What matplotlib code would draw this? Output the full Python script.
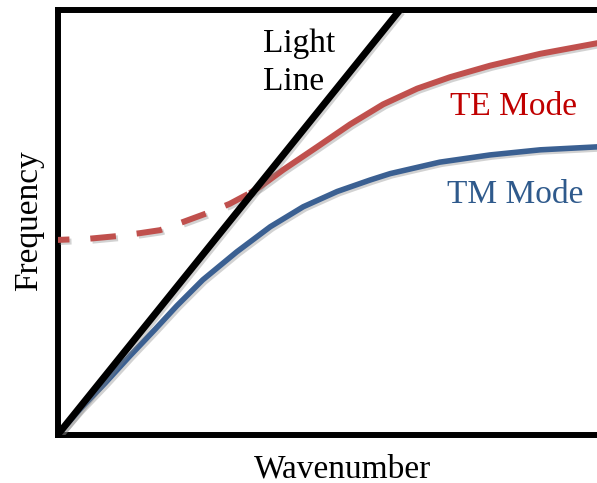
import matplotlib.pyplot as plt
import matplotlib.patheffects as pe

# values (wavenumber / frequency in arbitrary units, 0..10)
light_k = [0.0, 6.34]
light_w = [0.0, 10.0]

te_dash_k = [0.0, 0.60, 1.10, 1.53, 1.90, 2.32, 2.77, 3.19, 3.56]
te_dash_w = [4.59, 4.62, 4.68, 4.75, 4.82, 5.01, 5.22, 5.44, 5.69]
te_k = [3.56, 3.75, 4.18, 4.81, 5.42, 6.03, 6.66, 7.27, 8.01, 8.94, 10.0]
te_w = [5.69, 5.84, 6.24, 6.78, 7.31, 7.78, 8.15, 8.42, 8.69, 8.97, 9.22]

tm_k = [0.0, 0.42, 0.88, 1.34, 1.81, 2.21, 2.69, 3.32, 3.94, 4.55, 5.18, 5.79,
        6.16, 7.08, 8.01, 8.94, 10.0]
tm_w = [0.0, 0.61, 1.22, 1.86, 2.49, 3.04, 3.65, 4.31, 4.90, 5.37, 5.73, 6.00,
        6.15, 6.42, 6.59, 6.71, 6.78]

TE_LINE = "#C0504D"
TE_TEXT = "#C00000"
TM_LINE = "#3B6092"
TM_TEXT = "#2F5A8C"

plt.rcParams["font.family"] = ["Liberation Serif", "DejaVu Serif"]

shadow = [pe.SimpleLineShadow(offset=(1.5, -1.5), shadow_color="gray", alpha=0.35), pe.Normal()]

fig = plt.figure(figsize=(5.97, 4.83), dpi=100)
ax = fig.add_axes([57.5 / 597, 48 / 483, 540 / 597, 425 / 483])

ax.plot(tm_k, tm_w, color=TM_LINE, lw=4.0, solid_capstyle="butt", solid_joinstyle="round",
        path_effects=shadow, zorder=3)
ax.plot(te_dash_k, te_dash_w, color=TE_LINE, lw=4.3, linestyle=(2.3, (4.3, 3.5)),
        dash_capstyle="butt", dash_joinstyle="round", path_effects=shadow, zorder=3)
ax.plot(te_k, te_w, color=TE_LINE, lw=4.3, solid_capstyle="butt", solid_joinstyle="round",
        path_effects=shadow, zorder=3)
ax.plot(light_k, light_w, color="black", lw=5.0, solid_capstyle="butt", path_effects=shadow,
        zorder=4)

ax.set_xlim(0, 10)
ax.set_ylim(0, 10)
ax.set_xticks([])
ax.set_yticks([])
ax.spines["right"].set_visible(False)
for side in ["left", "bottom", "top"]:
    ax.spines[side].set_linewidth(4.3)
    ax.spines[side].set_color("black")

fs = 24
ax.text(3.80, 9.01, "Light", fontsize=fs, color="black", va="baseline", ha="left")
ax.text(3.80, 8.12, "Line", fontsize=fs, color="black", va="baseline", ha="left")
ax.text(7.27, 7.53, "TE Mode", fontsize=fs, color=TE_TEXT, va="baseline", ha="left")
ax.text(7.22, 5.46, "TM Mode", fontsize=fs, color=TM_TEXT, va="baseline", ha="left")

fig.text(343 / 597, 1 - 477 / 483, "Wavenumber", fontsize=fs, ha="center", va="baseline")
fig.text(37 / 597, 1 - 221 / 483, "Frequency", fontsize=fs, rotation=90,
         ha="center", va="baseline", rotation_mode="anchor")

fig.savefig("out.png", dpi=100)
